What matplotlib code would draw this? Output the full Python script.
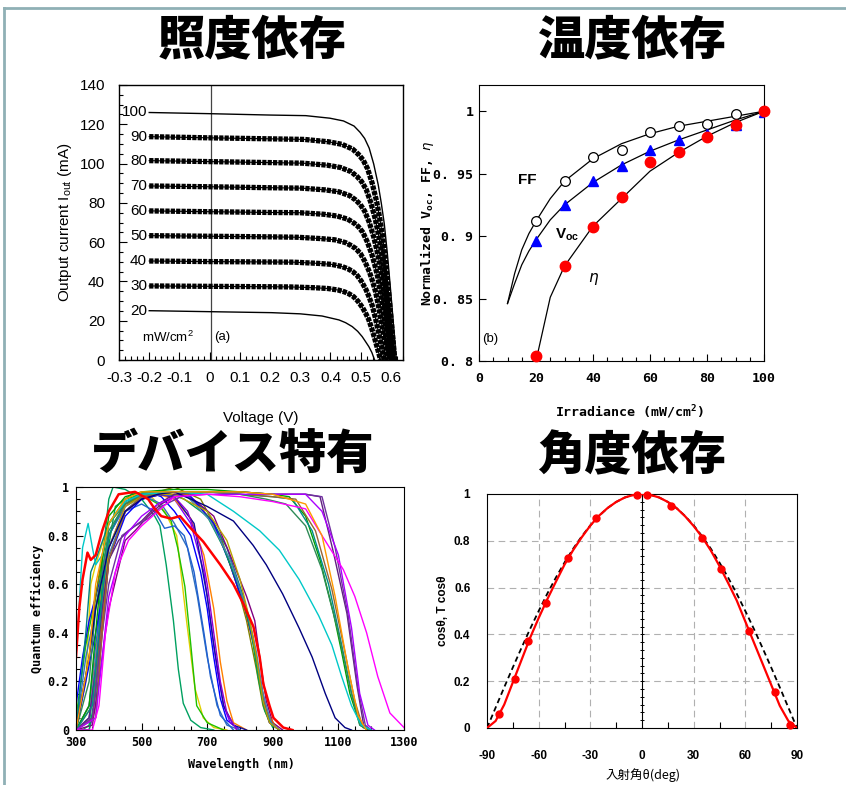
import numpy as np
import matplotlib
matplotlib.use('Agg')
import matplotlib.pyplot as plt
from matplotlib import font_manager as fm
from matplotlib.lines import Line2D
from matplotlib.ticker import MultipleLocator

# ================= DATA =================
# (a) I-V curves at different irradiance (mW/cm2)
iv_labels = ['100', '90', '80', '70', '60', '50', '40', '30', '20']
iv100_v = [-0.2, 0.0, 0.2, 0.318, 0.398, 0.443, 0.478, 0.498, 0.513, 0.528, 0.543, 0.558, 0.568, 0.578, 0.588, 0.598, 0.608, 0.618]
iv100_i = [126.0, 125.4, 124.7, 124.4, 123.1, 121.7, 119.1, 115.9, 112.8, 107.9, 99.8, 89.2, 80.0, 69.4, 54.6, 37.2, 18.6, 0.0]
iv90_v = [-0.2, 0.0, 0.2, 0.313, 0.393, 0.438, 0.473, 0.493, 0.508, 0.523, 0.538, 0.553, 0.563, 0.573, 0.583, 0.593, 0.603, 0.613]
iv90_i = [113.7, 113.1, 112.6, 112.3, 111.1, 109.8, 107.4, 104.6, 101.8, 97.3, 90.0, 80.5, 72.2, 62.6, 49.2, 33.5, 16.8, 0.0]
iv80_v = [-0.2, 0.0, 0.2, 0.308, 0.388, 0.433, 0.468, 0.488, 0.503, 0.518, 0.533, 0.548, 0.558, 0.568, 0.578, 0.588, 0.598, 0.608]
iv80_i = [101.5, 101.0, 100.5, 100.2, 99.2, 98.0, 95.9, 93.4, 90.8, 86.9, 80.4, 71.9, 64.5, 55.9, 43.9, 29.9, 15.0, 0.0]
iv70_v = [-0.2, 0.0, 0.2, 0.303, 0.383, 0.428, 0.463, 0.483, 0.498, 0.513, 0.528, 0.543, 0.553, 0.563, 0.573, 0.583, 0.593, 0.603]
iv70_i = [88.6, 88.2, 87.7, 87.5, 86.6, 85.6, 83.7, 81.5, 79.3, 75.8, 70.2, 62.7, 56.3, 48.8, 38.4, 26.1, 13.1, 0.0]
iv60_v = [-0.2, 0.0, 0.2, 0.297, 0.377, 0.422, 0.457, 0.477, 0.492, 0.507, 0.522, 0.537, 0.547, 0.557, 0.567, 0.577, 0.587, 0.597]
iv60_i = [75.9, 75.5, 75.1, 75.0, 74.2, 73.3, 71.7, 69.8, 67.9, 65.0, 60.1, 53.7, 48.2, 41.8, 32.9, 22.4, 11.2, 0.0]
iv50_v = [-0.2, 0.0, 0.2, 0.289, 0.369, 0.414, 0.449, 0.469, 0.484, 0.499, 0.514, 0.529, 0.539, 0.549, 0.559, 0.569, 0.579, 0.589]
iv50_i = [63.3, 63.0, 62.7, 62.5, 61.8, 61.2, 59.8, 58.2, 56.7, 54.2, 50.1, 44.8, 40.2, 34.9, 27.4, 18.7, 9.4, 0.0]
iv40_v = [-0.2, 0.0, 0.2, 0.278, 0.358, 0.403, 0.438, 0.458, 0.473, 0.488, 0.503, 0.518, 0.528, 0.538, 0.548, 0.558, 0.568, 0.578]
iv40_i = [50.4, 50.1, 49.9, 49.8, 49.2, 48.7, 47.6, 46.4, 45.1, 43.1, 39.9, 35.7, 32.0, 27.8, 21.8, 14.9, 7.5, 0.0]
iv30_v = [-0.2, 0.0, 0.2, 0.266, 0.346, 0.391, 0.426, 0.446, 0.461, 0.476, 0.491, 0.506, 0.516, 0.526, 0.536, 0.546, 0.556, 0.566]
iv30_i = [37.7, 37.5, 37.3, 37.2, 36.8, 36.4, 35.6, 34.7, 33.7, 32.3, 29.9, 26.7, 23.9, 20.8, 16.3, 11.1, 5.6, 0.0]
iv20_v = [-0.2, 0.0, 0.205, 0.3, 0.372, 0.428, 0.45, 0.472, 0.49, 0.505, 0.515, 0.527, 0.537, 0.546]
iv20_i = [25.1, 24.6, 24.1, 23.5, 22.4, 20.4, 19.0, 17.0, 14.6, 11.9, 9.6, 6.8, 3.8, 0.0]
iv_xticks = [-0.3, -0.2, -0.1, 0.0, 0.1, 0.2, 0.3, 0.4, 0.5, 0.6]
iv_xticklabels = ['-0.3', '-0.2', '-0.1', '0', '0.1', '0.2', '0.3', '0.4', '0.5', '0.6']
iv_yticks = [0, 20, 40, 60, 80, 100, 120, 140]

# (b) normalized parameters vs irradiance
irr = [20, 30, 40, 50, 60, 70, 80, 90, 100]
ff_pts = [0.912, 0.944, 0.963, 0.969, 0.9835, 0.988, 0.9896, 0.9976, 1.0]
voc_pts = [0.896, 0.925, 0.944, 0.956, 0.969, 0.977, 0.982, 0.989, 0.999]
eta_pts = [0.804, 0.876, 0.9075, 0.931, 0.9595, 0.9675, 0.979, 0.989, 1.0]
ff_line_x = [10, 12.5, 15, 17.5, 20, 25, 30, 40, 50, 60, 70, 80, 90, 100]
ff_line_y = [0.846, 0.870, 0.889, 0.902, 0.912, 0.930, 0.944, 0.962, 0.974, 0.982, 0.988, 0.992, 0.996, 1.0]
voc_line_x = [10, 12.5, 15, 17.5, 20, 25, 30, 40, 50, 60, 70, 80, 90, 100]
voc_line_y = [0.846, 0.862, 0.877, 0.888, 0.897, 0.913, 0.925, 0.943, 0.957, 0.968, 0.977, 0.985, 0.993, 1.0]
eta_line_x = [20, 25, 30, 40, 50, 60, 70, 80, 90, 100]
eta_line_y = [0.800, 0.851, 0.876, 0.908, 0.930, 0.952, 0.967, 0.980, 0.991, 1.0]
b_yticks = [0.8, 0.85, 0.9, 0.95, 1.0]
b_yticklabels = ['0. 8', '0. 85', '0. 9', '0. 95', '1']
b_xticks = [0, 20, 40, 60, 80, 100]

# (c) quantum efficiency spectra of various devices
c01_wl = [300, 320, 340, 360, 380, 400, 413, 450, 500, 540, 556, 575, 597, 612, 627, 650, 680, 720]
c01_qe = [0.0, 0.0, 0.02, 0.25, 0.7, 0.95, 1.0, 0.99, 0.95, 0.88, 0.84, 0.68, 0.45, 0.25, 0.11, 0.04, 0.01, 0.0]
c02_wl = [300, 330, 345, 360, 400, 450, 500, 530, 570, 607, 637, 663, 688, 720, 760]
c02_qe = [0.0, 0.2, 0.6, 0.68, 0.85, 0.93, 0.96, 0.96, 0.9, 0.8, 0.45, 0.17, 0.05, 0.01, 0.0]
c03_wl = [300, 330, 360, 400, 450, 500, 550, 590, 610, 632, 650, 668, 700, 750]
c03_qe = [0.05, 0.35, 0.55, 0.85, 0.95, 0.97, 0.93, 0.86, 0.75, 0.59, 0.35, 0.1, 0.03, 0.0]
c04_wl = [300, 320, 340, 360, 380, 400, 450, 500, 520, 560, 600, 650, 680, 700, 720, 740, 760, 800]
c04_qe = [0.1, 0.3, 0.45, 0.55, 0.65, 0.8, 0.93, 0.97, 0.98, 0.96, 0.9, 0.8, 0.65, 0.5, 0.3, 0.13, 0.04, 0.0]
c05_wl = [300, 340, 360, 380, 400, 450, 500, 550, 600, 650, 690, 710, 730, 750, 770, 800]
c05_qe = [0.0, 0.05, 0.2, 0.5, 0.75, 0.92, 0.97, 0.98, 0.95, 0.85, 0.65, 0.45, 0.25, 0.1, 0.03, 0.0]
c06_wl = [300, 340, 360, 380, 400, 450, 500, 550, 600, 650, 690, 720, 740, 760, 780, 820]
c06_qe = [0.0, 0.1, 0.3, 0.6, 0.8, 0.93, 0.96, 0.97, 0.95, 0.87, 0.72, 0.5, 0.28, 0.12, 0.03, 0.0]
c07_wl = [300, 330, 360, 400, 450, 500, 530, 560, 600, 640, 670, 700, 730, 760, 800]
c07_qe = [0.0, 0.3, 0.5, 0.8, 0.92, 0.96, 0.95, 0.93, 0.85, 0.75, 0.55, 0.3, 0.1, 0.02, 0.0]
c08_wl = [300, 340, 360, 400, 450, 500, 540, 570, 600, 630, 660, 690, 710, 740, 780]
c08_qe = [0.0, 0.1, 0.35, 0.75, 0.9, 0.93, 0.9, 0.83, 0.84, 0.8, 0.65, 0.4, 0.22, 0.06, 0.0]
c09_wl = [300, 350, 370, 400, 450, 500, 550, 600, 660, 700, 720, 750, 780, 820]
c09_qe = [0.0, 0.05, 0.3, 0.7, 0.9, 0.96, 0.97, 0.96, 0.85, 0.55, 0.35, 0.1, 0.02, 0.0]
c10_wl = [300, 340, 360, 380, 400, 450, 500, 560, 600, 640, 680, 700, 720, 740, 760, 790]
c10_qe = [0.0, 0.0, 0.1, 0.4, 0.7, 0.9, 0.95, 0.97, 0.96, 0.9, 0.75, 0.6, 0.4, 0.2, 0.07, 0.0]
c11_wl = [300, 310, 320, 335, 345, 360, 380, 400, 430, 480, 520, 540, 560, 590, 617, 650, 688, 740, 780, 810, 841, 860, 871, 890, 902, 932, 960]
c11_qe = [0.3, 0.5, 0.62, 0.73, 0.7, 0.72, 0.82, 0.9, 0.97, 0.98, 0.95, 0.91, 0.88, 0.87, 0.88, 0.83, 0.775, 0.68, 0.6, 0.52, 0.425, 0.3, 0.19, 0.1, 0.05, 0.01, 0.0]
c12_wl = [300, 340, 360, 380, 400, 450, 500, 550, 600, 680, 740, 790, 820, 850, 870, 890, 920]
c12_qe = [0.0, 0.3, 0.55, 0.72, 0.85, 0.93, 0.96, 0.98, 1.0, 0.95, 0.8, 0.6, 0.45, 0.25, 0.1, 0.03, 0.0]
c13_wl = [300, 330, 345, 360, 400, 450, 500, 560, 620, 700, 760, 810, 840, 860, 880, 900, 920]
c13_qe = [0.0, 0.4, 0.65, 0.7, 0.85, 0.94, 0.97, 0.98, 0.98, 0.9, 0.75, 0.55, 0.38, 0.22, 0.08, 0.02, 0.0]
c14_wl = [300, 350, 370, 400, 450, 480, 520, 560, 600, 640, 720, 770, 820, 845, 860, 880, 900, 930]
c14_qe = [0.0, 0.02, 0.2, 0.5, 0.78, 0.82, 0.88, 0.93, 0.96, 0.97, 0.88, 0.72, 0.55, 0.45, 0.3, 0.12, 0.03, 0.0]
c15_wl = [300, 350, 370, 400, 450, 500, 560, 640, 710, 760, 810, 840, 862, 880, 910]
c15_qe = [0.0, 0.05, 0.3, 0.7, 0.9, 0.95, 0.97, 0.97, 0.87, 0.72, 0.52, 0.36, 0.2, 0.08, 0.01]
c16_wl = [300, 330, 360, 400, 450, 500, 560, 650, 720, 770, 820, 850, 870, 890, 920]
c16_qe = [0.0, 0.2, 0.4, 0.7, 0.88, 0.95, 0.97, 0.96, 0.85, 0.68, 0.48, 0.3, 0.12, 0.03, 0.0]
c17_wl = [300, 340, 360, 380, 420, 470, 520, 570, 630, 700, 750, 800, 835, 855, 875, 900]
c17_qe = [0.0, 0.0, 0.15, 0.6, 0.92, 0.97, 0.98, 0.98, 0.95, 0.88, 0.75, 0.58, 0.4, 0.22, 0.08, 0.01]
c18_wl = [300, 340, 370, 400, 450, 500, 560, 640, 710, 770, 820, 850, 870, 895, 920]
c18_qe = [0.0, 0.05, 0.4, 0.72, 0.9, 0.96, 0.97, 0.96, 0.86, 0.7, 0.5, 0.32, 0.15, 0.03, 0.0]
c19_wl = [300, 350, 380, 400, 450, 500, 550, 600, 700, 760, 800, 830, 850, 870, 890, 920]
c19_qe = [0.0, 0.1, 0.5, 0.75, 0.92, 0.96, 0.97, 0.97, 0.9, 0.78, 0.62, 0.45, 0.3, 0.12, 0.03, 0.0]
c20_wl = [300, 340, 360, 380, 400, 430, 460, 500, 550, 600, 700, 800, 900, 1000, 1044, 1085, 1126, 1157, 1177, 1200]
c20_qe = [0.0, 0.05, 0.25, 0.5, 0.7, 0.78, 0.82, 0.86, 0.93, 0.97, 0.98, 0.98, 0.97, 0.97, 0.96, 0.73, 0.48, 0.18, 0.02, 0.0]
c21_wl = [300, 350, 370, 400, 440, 480, 520, 560, 620, 700, 800, 900, 1000, 1050, 1090, 1130, 1160, 1182, 1200]
c21_qe = [0.0, 0.05, 0.3, 0.6, 0.8, 0.84, 0.87, 0.92, 0.96, 0.98, 0.98, 0.97, 0.97, 0.96, 0.75, 0.47, 0.17, 0.02, 0.0]
c22_wl = [300, 340, 360, 380, 400, 450, 500, 600, 700, 800, 900, 950, 1000, 1044, 1085, 1110, 1135, 1166, 1190]
c22_qe = [0.0, 0.1, 0.4, 0.7, 0.88, 0.96, 0.98, 0.99, 0.99, 0.98, 0.97, 0.96, 0.88, 0.7, 0.48, 0.32, 0.15, 0.02, 0.0]
c23_wl = [300, 350, 380, 400, 450, 500, 600, 700, 800, 900, 960, 1020, 1070, 1110, 1140, 1170, 1190]
c23_qe = [0.0, 0.1, 0.55, 0.8, 0.94, 0.97, 0.98, 0.98, 0.97, 0.96, 0.95, 0.82, 0.6, 0.35, 0.15, 0.02, 0.0]
c24_wl = [300, 360, 380, 400, 450, 500, 600, 700, 800, 900, 970, 1030, 1080, 1120, 1150, 1175, 1195]
c24_qe = [0.0, 0.05, 0.4, 0.7, 0.9, 0.96, 0.98, 0.98, 0.97, 0.96, 0.95, 0.82, 0.58, 0.32, 0.12, 0.01, 0.0]
c25_wl = [300, 340, 360, 400, 450, 500, 600, 700, 800, 880, 940, 1000, 1050, 1100, 1140, 1165, 1190]
c25_qe = [0.0, 0.2, 0.5, 0.82, 0.93, 0.97, 0.98, 0.98, 0.97, 0.95, 0.93, 0.84, 0.66, 0.4, 0.15, 0.02, 0.0]
c26_wl = [300, 360, 380, 400, 450, 500, 550, 600, 700, 800, 900, 1000, 1050, 1100, 1140, 1165, 1190, 1210]
c26_qe = [0.0, 0.05, 0.3, 0.55, 0.8, 0.88, 0.93, 0.96, 0.97, 0.97, 0.97, 0.97, 0.9, 0.72, 0.42, 0.15, 0.02, 0.0]
c27_wl = [300, 320, 337, 350, 360, 380, 400, 450, 500, 600, 700, 780, 860, 920, 980, 1040, 1080, 1110, 1140, 1170, 1200]
c27_qe = [0.3, 0.75, 0.85, 0.75, 0.68, 0.72, 0.85, 0.94, 0.97, 0.98, 0.97, 0.9, 0.82, 0.74, 0.62, 0.47, 0.35, 0.22, 0.1, 0.02, 0.0]
c28_wl = [300, 340, 360, 400, 450, 500, 550, 600, 700, 780, 840, 880, 930, 980, 1020, 1060, 1090, 1120, 1140]
c28_qe = [0.0, 0.3, 0.5, 0.75, 0.9, 0.95, 0.97, 0.98, 0.92, 0.86, 0.76, 0.68, 0.56, 0.42, 0.3, 0.15, 0.05, 0.01, 0.0]
c29_wl = [300, 350, 370, 390, 420, 460, 500, 550, 600, 700, 800, 900, 1000, 1050, 1115, 1150, 1186, 1220, 1257, 1300]
c29_qe = [0.0, 0.0, 0.1, 0.4, 0.65, 0.78, 0.84, 0.9, 0.96, 0.97, 0.96, 0.94, 0.91, 0.8, 0.66, 0.55, 0.4, 0.22, 0.07, 0.01]
c30_wl = [300, 340, 360, 400, 450, 500, 600, 700, 800, 900, 1000, 1050, 1090, 1130, 1160, 1185]
c30_qe = [0.0, 0.3, 0.6, 0.85, 0.95, 0.98, 0.98, 0.98, 0.98, 0.97, 0.93, 0.8, 0.55, 0.25, 0.06, 0.0]
c_xticks = [300, 500, 700, 900, 1100, 1300]
c_yticks = [0, 0.2, 0.4, 0.6, 0.8, 1.0]
c_yticklabels = ['0', '0.2', '0.4', '0.6', '0.8', '1']

# (d) angle dependence
ang = [-90, -85, -80, -75, -70, -65, -60, -55, -50, -45, -40, -35, -30, -25, -20, -15, -10, -5, 0,
       5, 10, 15, 20, 25, 30, 35, 40, 45, 50, 55, 60, 65, 70, 75, 80, 85, 90]
cos_vals = [0.0, 0.087, 0.174, 0.259, 0.342, 0.423, 0.5, 0.574, 0.643, 0.707, 0.766, 0.819, 0.866, 0.906, 0.94, 0.966, 0.985, 0.996, 1.0,
            0.996, 0.985, 0.966, 0.94, 0.906, 0.866, 0.819, 0.766, 0.707, 0.643, 0.574, 0.5, 0.423, 0.342, 0.259, 0.174, 0.087, 0.0]
tcos_vals = [0.0, 0.03, 0.1, 0.195, 0.29, 0.385, 0.47, 0.55, 0.625, 0.698, 0.76, 0.815, 0.865, 0.907, 0.94, 0.966, 0.985, 0.996, 1.0,
             0.996, 0.985, 0.966, 0.94, 0.905, 0.863, 0.815, 0.758, 0.692, 0.62, 0.545, 0.455, 0.365, 0.275, 0.185, 0.095, 0.03, 0.0]
meas_ang = [-83, -74, -66, -56, -43, -27, -3, 3, 17, 35, 46, 62, 77, 86]
meas_val = [0.06, 0.208, 0.372, 0.536, 0.728, 0.899, 0.996, 0.996, 0.95, 0.812, 0.678, 0.415, 0.153, 0.013]
d_xticks = [-90, -60, -30, 0, 30, 60, 90]
d_yticks = [0, 0.2, 0.4, 0.6, 0.8, 1.0]
d_yticklabels = ['0', '0.2', '0.4', '0.6', '0.8', '1']

titles = ['照度依存', '温度依存', 'デバイス特有', '角度依存']

# ================= STYLE / FONTS =================
_names = {f.name for f in fm.fontManager.ttflist}
if 'Liberation Sans Narrow' in _names:
    NARROW, NSIZE = 'Liberation Sans Narrow', 12
else:
    NARROW, NSIZE = 'Liberation Sans', 11
MONO = 'DejaVu Sans Mono'
CJK = ['Noto Sans CJK JP', 'DejaVu Sans']
plt.rcParams['mathtext.default'] = 'regular'

W, H = 846, 785
fig = plt.figure(figsize=(W / 100, H / 100), dpi=100)
fig.patch.set_facecolor('white')


def rect(l, r, t, b):
    return [l / W, 1 - b / H, (r - l) / W, (b - t) / H]


# border lines of the slide
bcol = '#8fb0b5'
fig.add_artist(Line2D([4 / W, 1.0], [1 - 8 / H, 1 - 8 / H], color=bcol, lw=2.0, transform=fig.transFigure))
fig.add_artist(Line2D([4 / W, 4 / W], [1 - 8 / H, 0.0], color=bcol, lw=2.0, transform=fig.transFigure))

# titles
for txt, (tx, ty) in zip(titles, [(252, 40), (632, 40), (233, 455), (632, 456)]):
    fig.text(tx / W, 1 - ty / H, txt, ha='center', va='center', fontsize=34,
             fontweight='black', family=CJK)

# ---------------- (a) ----------------
ax = fig.add_axes(rect(119, 403, 85, 360))
ax.set_xlim(-0.3, 0.64)
ax.set_ylim(0, 140)
ax.axvline(0.005, color='#444444', lw=0.9, zorder=1)
dotted = [(iv90_v, iv90_i), (iv80_v, iv80_i), (iv70_v, iv70_i), (iv60_v, iv60_i),
          (iv50_v, iv50_i), (iv40_v, iv40_i), (iv30_v, iv30_i)]
for v, i in [(iv100_v, iv100_i), (iv20_v, iv20_i)]:
    ax.plot(v, i, color='k', lw=1.0)
for v, i in dotted:
    ax.plot(v, i, color='k', lw=0.8)
    dl, = ax.plot(v, i, color='k', lw=3.8, linestyle=(0, (0.8, 0.22)))
    dl.set_dash_capstyle('butt')
all_i = [iv100_i, iv90_i, iv80_i, iv70_i, iv60_i, iv50_i, iv40_i, iv30_i, iv20_i]
for lab, i in zip(iv_labels, all_i):
    ax.text(-0.207, i[0], lab, ha='right', va='center', family=NARROW, fontsize=NSIZE)
ax.text(-0.224, 11.5, 'mW/cm$^{2}$', ha='left', va='center', family=NARROW, fontsize=NSIZE - 1.5)
ax.text(0.015, 11.5, '(a)', ha='left', va='center', family=NARROW, fontsize=NSIZE - 1.5)
ax.set_xticks(iv_xticks, iv_xticklabels, family=NARROW, fontsize=NSIZE)
ax.set_yticks(iv_yticks, [str(t) for t in iv_yticks], family=NARROW, fontsize=NSIZE)
ax.xaxis.set_minor_locator(MultipleLocator(0.02))
ax.yaxis.set_minor_locator(MultipleLocator(5))
ax.tick_params(which='both', direction='in', top=False, right=False)
ax.tick_params(which='major', length=6, width=0.8)
ax.tick_params(which='minor', length=3, width=0.8)
ax.tick_params(axis='y', pad=10)
ax.tick_params(axis='x', pad=8)
ax.set_xlabel('Voltage (V)', family=NARROW, fontsize=NSIZE, va='center')
ax.xaxis.set_label_coords(0.5, -0.211)
ax.set_ylabel('Output current I$_{out}$ (mA)', family=NARROW, fontsize=NSIZE, va='center')
ax.yaxis.set_label_coords(-0.19, 0.5)
for s in ax.spines.values():
    s.set_linewidth(1.0)

# ---------------- (b) ----------------
bx = fig.add_axes(rect(479, 764, 85, 361))
bx.set_xlim(0, 100)
bx.set_ylim(0.8, 1.021)
bx.plot(ff_line_x, ff_line_y, color='k', lw=0.9, zorder=2)
bx.plot(voc_line_x, voc_line_y, color='k', lw=0.9, zorder=2)
bx.plot(eta_line_x, eta_line_y, color='k', lw=0.9, zorder=2)
bx.plot(irr, ff_pts, 'o', ms=7, mfc='white', mec='k', mew=0.9, zorder=3)
bx.plot(irr, voc_pts, '^', ms=7.5, color='#0000ff', mec='#0000ff', zorder=3)
bx.plot(irr, eta_pts, 'o', ms=7.5, color='#ff0000', mec='#ff0000', zorder=4, clip_on=False)
bx.text(17, 0.945, 'FF', ha='center', va='center', family=NARROW, fontsize=NSIZE, fontweight='bold')
bx.text(31, 0.901, 'V$_{oc}$', ha='center', va='center', family=NARROW, fontsize=NSIZE, fontweight='bold')
bx.text(40, 0.867, 'η', ha='center', va='center', family='DejaVu Sans', style='italic', fontsize=NSIZE)
bx.text(4, 0.818, '(b)', ha='center', va='center', family=NARROW, fontsize=NSIZE - 1.5)
bx.set_xticks(b_xticks, [str(t) for t in b_xticks], family=MONO, fontweight='bold', fontsize=9.5)
bx.set_yticks(b_yticks, b_yticklabels, family=MONO, fontweight='bold', fontsize=9.5)
bx.xaxis.set_minor_locator(MultipleLocator(5))
bx.tick_params(which='both', direction='in', top=False, right=False)
bx.tick_params(which='major', length=5, width=0.8)
bx.tick_params(which='minor', length=3, width=0.8)
bx.tick_params(axis='y', pad=4)
bx.tick_params(axis='x', pad=8)
bx.set_xlabel('Irradiance (mW/cm$^{2}$)', family=MONO, fontweight='bold', fontsize=9.5, va='center')
bx.xaxis.set_label_coords(0.53, -0.185)
bx.set_ylabel(r'Normalized V$_{oc}$, FF, $\mathit{\eta}$', family=MONO, fontweight='bold', fontsize=9.5, va='center')
bx.yaxis.set_label_coords(-0.182, 0.5)

# ---------------- (c) ----------------
cx = fig.add_axes(rect(76, 404, 487, 730))
cx.set_xlim(300, 1300)
cx.set_ylim(0, 1)
qe_curves = [
    (c01_wl, c01_qe, '#00a060', 1.0), (c02_wl, c02_qe, '#e0d000', 1.0), (c03_wl, c03_qe, '#20c000', 1.0),
    (c04_wl, c04_qe, '#0000ff', 1.0), (c05_wl, c05_qe, '#8000ff', 1.0), (c06_wl, c06_qe, '#ff8000', 1.0),
    (c07_wl, c07_qe, '#3070c0', 1.0), (c08_wl, c08_qe, '#2060d0', 1.0), (c09_wl, c09_qe, '#1010a0', 1.0),
    (c10_wl, c10_qe, '#9000d0', 1.0), (c12_wl, c12_qe, '#808000', 1.0),
    (c13_wl, c13_qe, '#008080', 1.0), (c14_wl, c14_qe, '#800080', 1.0), (c15_wl, c15_qe, '#cc6600', 1.0),
    (c16_wl, c16_qe, '#0000ff', 1.0), (c17_wl, c17_qe, '#00a050', 1.0), (c18_wl, c18_qe, '#4682b4', 1.0),
    (c19_wl, c19_qe, '#b8a000', 1.0), (c20_wl, c20_qe, '#602080', 1.0), (c21_wl, c21_qe, '#7030a0', 1.0),
    (c22_wl, c22_qe, '#00a000', 1.0), (c23_wl, c23_qe, '#008b8b', 1.0), (c24_wl, c24_qe, '#996633', 1.0),
    (c25_wl, c25_qe, '#2e8b57', 1.0), (c26_wl, c26_qe, '#aa00ff', 1.0), (c27_wl, c27_qe, '#00c8c8', 1.0),
    (c28_wl, c28_qe, '#000080', 1.0), (c29_wl, c29_qe, '#ff00ff', 1.0), (c30_wl, c30_qe, '#ff9900', 1.0),
    (c11_wl, c11_qe, '#ff0000', 1.8),
]
for wl, qe, col, lw in qe_curves:
    cx.plot(wl, qe, color=col, lw=lw)
cx.set_xticks(c_xticks, [str(t) for t in c_xticks], family=MONO, fontweight='bold', fontsize=8.5)
cx.set_yticks(c_yticks, c_yticklabels, family=MONO, fontweight='bold', fontsize=8.5)
cx.xaxis.set_minor_locator(MultipleLocator(50))
cx.yaxis.set_minor_locator(MultipleLocator(0.05))
cx.tick_params(which='both', direction='in', top=False, right=False)
cx.tick_params(which='major', length=5, width=0.8)
cx.tick_params(which='minor', length=3, width=0.8)
cx.tick_params(axis='y', pad=5)
cx.tick_params(axis='x', pad=4)
cx.set_xlabel('Wavelength (nm)', family=MONO, fontweight='bold', fontsize=8.5, va='center')
cx.xaxis.set_label_coords(0.503, -0.144)
cx.set_ylabel('Quantum efficiency', family=MONO, fontweight='bold', fontsize=8.5, va='center')
cx.yaxis.set_label_coords(-0.116, 0.5)

# ---------------- (d) ----------------
dx = fig.add_axes(rect(487, 797, 494, 728))
dx.set_xlim(-90, 90)
dx.set_ylim(0, 1)
for gx in [-60, -30, 30, 60]:
    dx.axvline(gx, color='#b0b0b0', lw=0.8, linestyle=(0, (6, 4)), zorder=0)
for gy in [0.2, 0.4, 0.6, 0.8]:
    dx.axhline(gy, color='#b0b0b0', lw=0.8, linestyle=(0, (6, 4)), zorder=0)
sec = dx.secondary_yaxis(0.5)
sec.set_yticks(np.arange(0, 1.0001, 1 / 30))
sec.tick_params(direction='inout', length=3, width=0.7, labelleft=False, labelright=False)
sec.spines['left'].set_linewidth(0.9)
dx.plot(ang, cos_vals, color='k', lw=1.3, linestyle=(0, (3, 2)), zorder=3)
dx.plot(ang, tcos_vals, color='#ff0000', lw=1.6, zorder=4)
dx.plot(meas_ang, meas_val, 'o', ms=5, color='#ff0000', zorder=5, clip_on=False)
dx.set_xticks(d_xticks, [str(t) for t in d_xticks], family='Liberation Sans', fontweight='bold', fontsize=8.5)
dx.set_yticks(d_yticks, d_yticklabels, family='Liberation Sans', fontweight='bold', fontsize=8.5)
dx.xaxis.set_minor_locator(MultipleLocator(15))
dx.tick_params(axis='x', which='both', direction='in', top=False)
dx.tick_params(axis='x', which='major', length=0, pad=16)
dx.tick_params(axis='x', which='minor', length=4, width=0.8)
dx.tick_params(axis='y', which='both', length=0, pad=12, right=False)
dx.set_xlabel('入射角θ(deg)', family=CJK, fontsize=9, va='center')
dx.xaxis.set_label_coords(0.503, -0.20)
dx.set_ylabel('cosθ, T cosθ', family='Liberation Sans', fontweight='bold', fontsize=8.5, va='center')
dx.yaxis.set_label_coords(-0.142, 0.5)

fig.savefig('out.png', dpi=100, facecolor='white')
